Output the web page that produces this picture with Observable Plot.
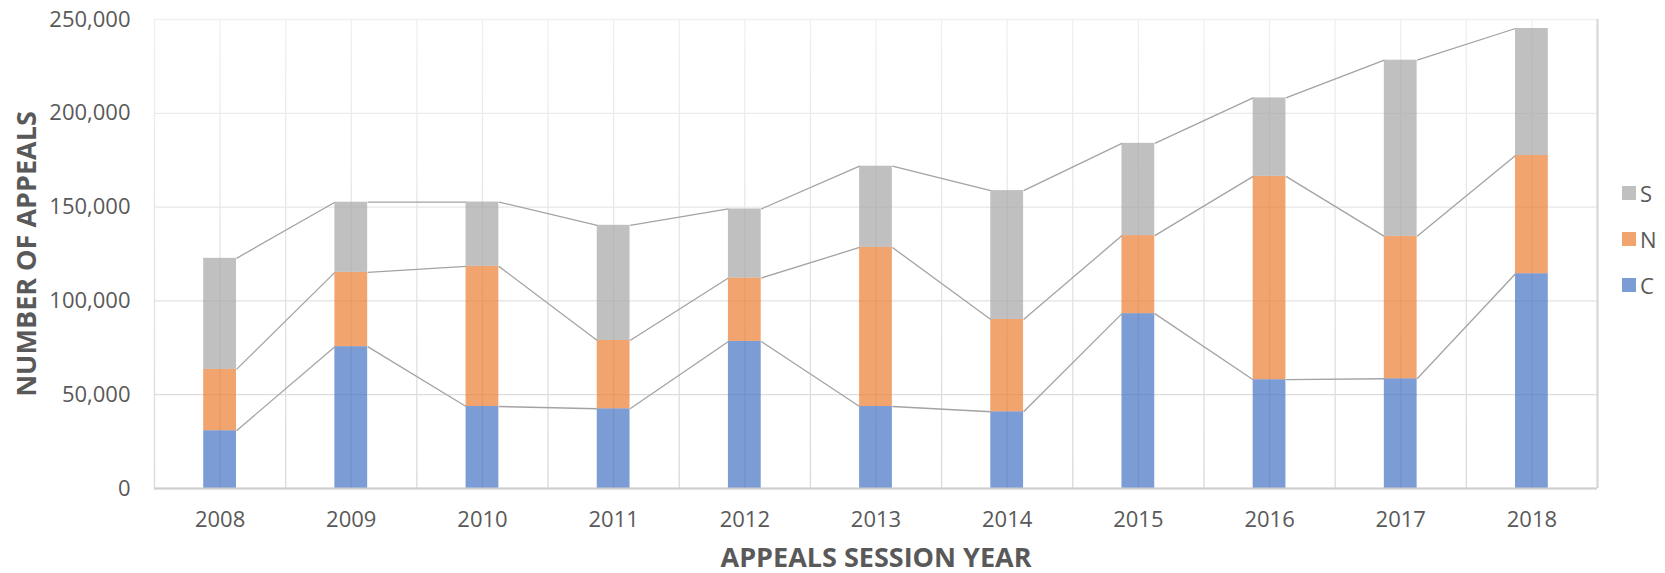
<!DOCTYPE html>
<html>
<head>
<meta charset="utf-8">
<script src="https://cdn.jsdelivr.net/npm/d3@7"></script>
<script src="https://cdn.jsdelivr.net/npm/@observablehq/plot@0.6"></script>
<style>
  html, body { margin: 0; padding: 0; background: #fff; }
  #wrap { position: relative; width: 1665px; height: 573px; }
  #chart svg { font-family: "Open Sans", sans-serif; }
  g[aria-label="y-axis label"] text, g[aria-label="x-axis label"] text {
    font-size: 27px; font-weight: bold; fill: #595959;
  }
  #legend { position: absolute; left: 1622px; top: 170px; font-family: "Open Sans", sans-serif;
    font-size: 22px; color: #595959; }
  #legend .item { display: flex; align-items: center; height: 46px; }
  #legend .sw { width: 14px; height: 14px; margin-right: 4px; }
</style>
</head>
<body>
<div id="wrap">
  <div id="chart"></div>
  <div id="legend"></div>
</div>
<script>
// ---- data ----
const years = [2008, 2009, 2010, 2011, 2012, 2013, 2014, 2015, 2016, 2017, 2018];
const seriesC = [30800, 75600, 43700, 42500, 78400, 43700, 40900, 93200, 58000, 58500, 114500];
const seriesN = [32700, 39600, 74700, 36400, 33800, 84800, 49200, 41600, 108400, 75900, 63000];
const seriesS = [59200, 37400, 34300, 61400, 36800, 43300, 68700, 49200, 41800, 93900, 67700];
const seriesNames = ["C", "N", "S"];
const seriesColors = ["#4472C4", "#ED7D31", "#A5A5A5"];
const yTicks = [0, 50000, 100000, 150000, 200000, 250000];

// ---- build table ----
const valuesBySeries = {C: seriesC, N: seriesN, S: seriesS};
const rows = [];
years.forEach((yr, i) => {
  let base = 0;
  seriesNames.forEach(s => {
    const v = valuesBySeries[s][i];
    rows.push({year: yr, series: s, y1: base, y2: base + v});
    base += v;
  });
});
const hw = 0.125; // half bar width in years
const links = [];
seriesNames.forEach(s => {
  const r = rows.filter(d => d.series === s);
  for (let i = 0; i < r.length - 1; i++) {
    links.push({series: s, xa: r[i].year + hw, xb: r[i + 1].year - hw, ya: r[i].y2, yb: r[i + 1].y2});
  }
});
const gridXTicks = years.flatMap(y => [y - 0.5, y]).concat([years[years.length - 1] + 0.5]);

const plot = Plot.plot({
  width: 1665,
  height: 573,
  marginLeft: 154,
  marginRight: 68,
  marginTop: 19,
  marginBottom: 85,
  style: {fontFamily: "Open Sans, sans-serif", fontSize: "22px", color: "#595959", background: "#fff"},
  x: {domain: [years[0] - 0.5, years[years.length - 1] + 0.5]},
  y: {domain: [0, 250000]},
  color: {domain: seriesNames, range: seriesColors},
  marks: [
    Plot.gridY(yTicks, {stroke: "url(#gridfade)", strokeOpacity: 1, strokeWidth: 1.3}),
    Plot.gridX(gridXTicks, {stroke: "url(#gridfade)", strokeOpacity: 1, strokeWidth: 1.3}),
    Plot.ruleX([years[years.length - 1] + 0.5], {stroke: "#D6D6D6", strokeWidth: 2}),
    Plot.rectY(rows, {x1: d => d.year - hw, x2: d => d.year + hw, y1: "y1", y2: "y2", fill: "series", fillOpacity: 0.7}),
    Plot.link(links, {x1: "xa", x2: "xb", y1: "ya", y2: "yb", stroke: "#A3A3A3", strokeWidth: 1.3}),
    Plot.ruleY([0], {stroke: "#CFCFCF", strokeWidth: 2}),
    Plot.axisY({ticks: yTicks, tickFormat: d3.format(","), tickSize: 0, tickPadding: 24,
      label: "NUMBER OF APPEALS", labelAnchor: "center", labelArrow: "none", labelOffset: 138, fill: "#595959"}),
    Plot.axisX({ticks: years, tickFormat: d => String(d), tickSize: 0, tickPadding: 23,
      label: "APPEALS SESSION YEAR", labelAnchor: "center", labelArrow: "none", labelOffset: 78, fill: "#595959"})
  ]
});

// gradient for faded gridlines
const ns = "http://www.w3.org/2000/svg";
const defs = document.createElementNS(ns, "defs");
defs.innerHTML = '<linearGradient id="gridfade" gradientUnits="userSpaceOnUse" x1="0" y1="19" x2="0" y2="488">' +
  '<stop offset="0" stop-color="#F0F0F0"/><stop offset="1" stop-color="#D9D9D9"/></linearGradient>';
plot.insertBefore(defs, plot.firstChild);
document.getElementById("chart").appendChild(plot);

// legend (top to bottom: S, N, C)
const legend = d3.select("#legend");
seriesNames.slice().reverse().forEach(s => {
  const item = legend.append("div").attr("class", "item");
  item.append("div").attr("class", "sw").style("background", seriesColors[seriesNames.indexOf(s)]).style("opacity", 0.7);
  item.append("span").text(s);
});
</script>
</body>
</html>
